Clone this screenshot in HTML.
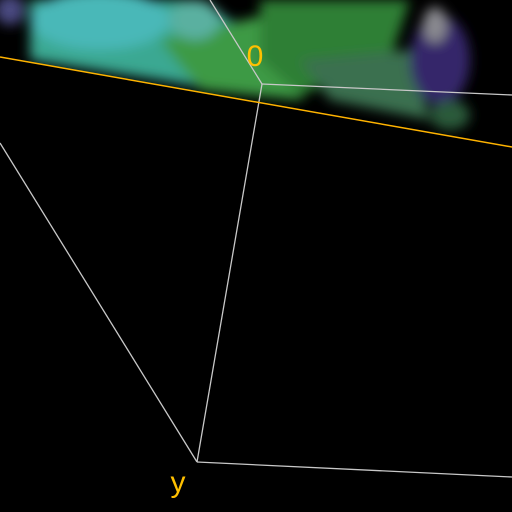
<!DOCTYPE html>
<html><head><style>html,body{margin:0;padding:0;background:#000;}svg{display:block}</style></head>
<body>
<svg width="512" height="512" viewBox="0 0 512 512">
<defs>
<filter id="b" x="-50%" y="-50%" width="200%" height="200%"><feGaussianBlur stdDeviation="6"/></filter>
<clipPath id="c"><polygon points="0,0 512,0 512,147 0,57"/></clipPath>
</defs>
<rect width="512" height="512" fill="#000"/>
<g clip-path="url(#c)" filter="url(#b)">
<polygon points="30,0 200,0 260,40 250,95 160,80 30,60" fill="#3aa892"/>
<ellipse cx="100" cy="20" rx="70" ry="30" fill="#48b8b8"/>
<polygon points="160,40 330,0 360,20 300,100 200,90" fill="#3c9a44"/>
<polygon points="260,0 410,0 390,60 300,95 260,60" fill="#2f7f34"/>
<polygon points="300,60 410,50 430,120 330,100" fill="#3a7050"/>
<ellipse cx="440" cy="60" rx="30" ry="45" fill="#35286a"/>
<ellipse cx="435" cy="25" rx="12" ry="18" fill="#8a8a90"/>
<ellipse cx="450" cy="115" rx="20" ry="15" fill="#2c5a3a"/>
<ellipse cx="10" cy="10" rx="15" ry="15" fill="#4a4a80"/>
<ellipse cx="195" cy="20" rx="25" ry="20" fill="#5ab0a0"/>
</g>
<g stroke="#c8c8c8" stroke-width="1.3" fill="none">
<line x1="210" y1="0" x2="262" y2="84"/>
<line x1="262" y1="84" x2="512" y2="95"/>
<line x1="262" y1="84" x2="197" y2="462"/>
<line x1="197" y1="462" x2="512" y2="477"/>
<line x1="0" y1="143" x2="197" y2="462"/>
</g>
<line x1="0" y1="57" x2="512" y2="147" stroke="#ffb300" stroke-width="1.5"/>
<text x="255" y="66" font-family="Liberation Sans, sans-serif" font-size="30" fill="#ffc000" text-anchor="middle">0</text>
<text x="178" y="492" font-family="Liberation Sans, sans-serif" font-size="30" fill="#ffc000" text-anchor="middle">y</text>
</svg>
</body></html>
